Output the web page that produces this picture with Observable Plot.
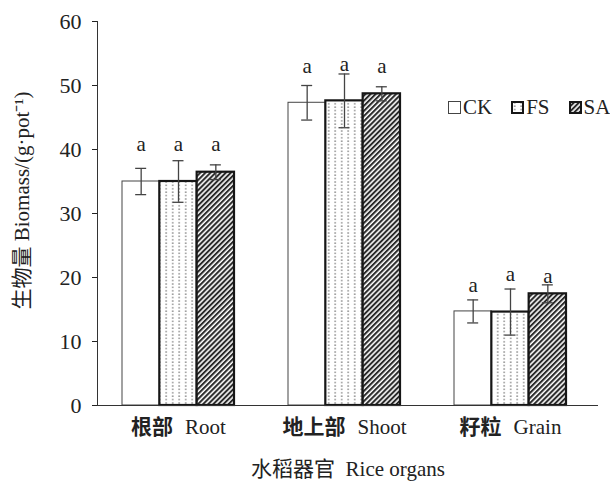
<!DOCTYPE html>
<html><head><meta charset="utf-8">
<script src="https://cdn.jsdelivr.net/npm/d3@7"></script>
<script src="https://cdn.jsdelivr.net/npm/@observablehq/plot@0.6"></script>
<style>
body{margin:0;background:#fff;}
#wrap{position:relative;width:610px;height:481px;}
#legend{position:absolute;left:448px;top:95px;display:flex;align-items:center;font-family:"Liberation Serif","Times New Roman",serif;font-size:21px;color:#222;}
#legend .item{display:flex;align-items:center;margin-right:19px;}
#legend svg{display:block;margin-right:2px;}
</style></head><body><div id="wrap"><div id="legend"></div></div>
<script>
const organs = ["Root", "Shoot", "Grain"];
const organZh = ["根部", "地上部", "籽粒"];
const treatments = ["CK", "FS", "SA"];
const ckMean = [35.0, 47.3, 14.7];
const ckErr  = [2.05, 2.7, 1.8];
const fsMean = [35.0, 47.6, 14.6];
const fsErr  = [3.25, 4.2, 3.6];
const saMean = [36.45, 48.7, 17.45];
const saErr  = [1.15, 1.1, 1.4];
const ckSig = ["a", "a", "a"];
const fsSig = ["a", "a", "a"];
const saSig = ["a", "a", "a"];
const ckSigY = [39.8, 51.9, 17.7];
const fsSigY = [39.8, 52.3, 19.5];
const saSigY = [39.8, 52.0, 19.2];
const yTicks = [0, 10, 20, 30, 40, 50, 60];
const xTitle = "水稻器官  Rice organs";
const yTitle = "生物量 Biomass/(g·pot⁻¹)";

const means = {CK: ckMean, FS: fsMean, SA: saMean};
const errs = {CK: ckErr, FS: fsErr, SA: saErr};
const sigs = {CK: ckSig, FS: fsSig, SA: saSig};
const sigYs = {CK: ckSigY, FS: fsSigY, SA: saSigY};
const data = treatments.flatMap(t => organs.map((o, i) => ({
  t, organ: o, mean: means[t][i], lo: means[t][i] - errs[t][i], hi: means[t][i] + errs[t][i],
  sig: sigs[t][i], sigY: sigYs[t][i]
})));

const serif = "'Liberation Serif','Times New Roman','Noto Sans CJK SC',serif";
const styles = {
  CK: {fill: "#fff", stroke: "#444", strokeWidth: 1},
  FS: {fill: "url(#dotsPat)", stroke: "#161616", strokeWidth: 2.2},
  SA: {fill: "url(#hatchPat)", stroke: "#161616", strokeWidth: 2.2}
};

function defsMark() {
  const defs = d3.create("svg:defs");
  const p1 = defs.append("pattern").attr("id", "dotsPat").attr("patternUnits", "userSpaceOnUse")
    .attr("width", 6.5).attr("height", 3.4);
  p1.append("rect").attr("width", 6.5).attr("height", 3.4).attr("fill", "#fff");
  p1.append("rect").attr("x", 3).attr("y", 1.1).attr("width", 1.4).attr("height", 1.4).attr("fill", "#7a7a7a");
  const p2 = defs.append("pattern").attr("id", "hatchPat").attr("patternUnits", "userSpaceOnUse")
    .attr("width", 3.6).attr("height", 3.6).attr("patternTransform", "rotate(45)");
  p2.append("rect").attr("width", 3.6).attr("height", 3.6).attr("fill", "#fff");
  p2.append("line").attr("x1", 1).attr("y1", 0).attr("x2", 1).attr("y2", 3.6)
    .attr("stroke", "#2a2a2a").attr("stroke-width", 2.1);
  return defs.node();
}

function build(bw) {
  const marks = [defsMark];
  const w3 = bw / 3;
  treatments.forEach((t, ti) => {
    marks.push(Plot.barY(data.filter(d => d.t === t), {
      x: "organ", y: "mean", ...styles[t], insetLeft: ti * w3, insetRight: (2 - ti) * w3
    }));
  });
  treatments.forEach((t, ti) => {
    const d = data.filter(r => r.t === t);
    const dx = (ti - 1) * w3;
    const capL = ti * w3 + w3 / 2 - 5.5, capR = bw - (ti * w3 + w3 / 2 + 5.5);
    marks.push(Plot.ruleX(d, {x: "organ", y1: "lo", y2: "hi", dx, stroke: "#444", strokeWidth: 1.3}));
    marks.push(Plot.tickY(d, {x: "organ", y: "lo", insetLeft: capL, insetRight: capR, stroke: "#444", strokeWidth: 1.3}));
    marks.push(Plot.tickY(d, {x: "organ", y: "hi", insetLeft: capL, insetRight: capR, stroke: "#444", strokeWidth: 1.3}));
    marks.push(Plot.text(d, {x: "organ", y: "sigY", text: "sig", dx, lineAnchor: "bottom", fontSize: 21, fontFamily: serif, fill: "#222"}));
  });
  marks.push(Plot.ruleY([0], {stroke: "#333", strokeWidth: 1}));
  marks.push(Plot.frame({anchor: "left", stroke: "#333", strokeWidth: 1}));
  marks.push(Plot.axisY({ticks: yTicks, tickSize: 5, tickPadding: 11, fontSize: 22, fontFamily: serif, label: null, color: "#222"}));
  marks.push(Plot.axisX({tickSize: 0, tickPadding: 14, fontSize: 21, fontFamily: serif, label: null, color: "#222",
    tickFormat: d => organZh[organs.indexOf(d)] + "|" + d}));
  marks.push(Plot.text([xTitle], {frameAnchor: "bottom", dy: 70, fontSize: 21, fontFamily: serif, fill: "#222"}));
  marks.push(Plot.text([yTitle], {frameAnchor: "left", textAnchor: "middle", rotate: -90, dx: -75, dy: -13, fontSize: 21, fontFamily: serif, fill: "#222"}));
  return Plot.plot({
    width: 610, height: 481,
    marginLeft: 97, marginRight: 12, marginTop: 21, marginBottom: 76,
    style: {fontFamily: serif, background: "#fff", color: "#222", overflow: "visible"},
    x: {domain: organs, paddingInner: 0.328, paddingOuter: 0.1667, align: 0.43, axis: null},
    y: {domain: [0, 60], axis: null},
    marks
  });
}

const probe = build(112);
const bw = probe.scale("x").bandwidth;
const plot = build(bw);
plot.querySelectorAll("text").forEach(el => {
  const s = el.textContent;
  if (s.includes("|")) {
    const [zh, en] = s.split("|");
    el.textContent = "";
    const ns = "http://www.w3.org/2000/svg";
    const a = document.createElementNS(ns, "tspan");
    a.setAttribute("font-weight", "bold"); a.setAttribute("font-family", "'Noto Sans CJK SC'");
    a.textContent = zh;
    const b = document.createElementNS(ns, "tspan");
    b.setAttribute("dx", "12"); b.textContent = en;
    el.appendChild(a); el.appendChild(b);
  }
});
document.getElementById("wrap").prepend(plot);

const legend = d3.select("#legend");
treatments.forEach(t => {
  const it = legend.append("div").attr("class", "item");
  const sv = it.append("svg").attr("width", 13).attr("height", 13);
  const sw = styles[t].strokeWidth === 1 ? 1 : 2;
  sv.append("rect").attr("x", sw / 2).attr("y", sw / 2).attr("width", 13 - sw).attr("height", 13 - sw)
    .attr("fill", styles[t].fill).attr("stroke", styles[t].stroke).attr("stroke-width", sw);
  it.append("span").text(t);
});
</script></body></html>
